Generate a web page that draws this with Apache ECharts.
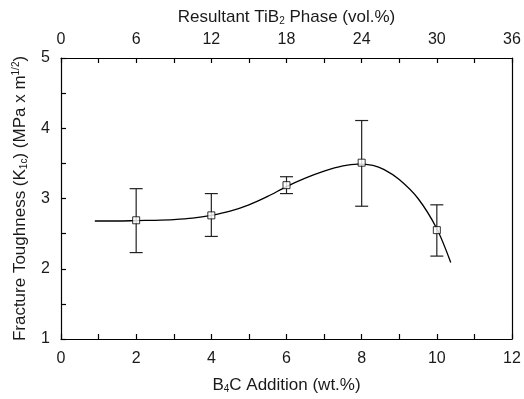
<!DOCTYPE html>
<html>
<head>
<meta charset="utf-8">
<script src="https://cdn.jsdelivr.net/npm/echarts@6/dist/echarts.min.js"></script>
<style>html,body{margin:0;padding:0;background:#fff}#c{width:524px;height:399px}</style>
</head>
<body>
<div id="c"></div>
<script>
// Measured points (B4C wt.%)
const b4c = [2, 4, 6, 8, 10];
const toughness = [2.69, 2.76, 3.19, 3.51, 2.55];
const errLow = [2.23, 2.46, 3.07, 2.89, 2.18];
const errHigh = [3.14, 3.07, 3.31, 4.11, 2.91];
// Fitted curve
const curveX = [0.9, 1.5, 2, 2.5, 3, 3.5, 4, 4.5, 5, 5.5, 6, 6.5, 7, 7.5, 7.9, 8.3, 8.6, 9, 9.5, 10, 10.37];
const curveY = [2.68, 2.68, 2.685, 2.69, 2.70, 2.72, 2.76, 2.82, 2.91, 3.03, 3.17, 3.29, 3.39, 3.465, 3.49, 3.47, 3.41, 3.27, 3.00, 2.57, 2.09];
// Axis settings
const bottomTicks = {min: 0, max: 12, interval: 2};
const topTicks = {min: 0, max: 36, interval: 6};
const leftTicks = {min: 1, max: 5, interval: 1};

const font = 'Liberation Sans, Arial, Helvetica, sans-serif';
const txt = '#1a1a1a';
const lineStyle = {color: '#000', width: 1.2};

const chart = echarts.init(document.getElementById('c'), null, {renderer: 'canvas'});
const subStyle = {fontSize: 10, verticalAlign: 'bottom', color: txt, fontFamily: font, padding: [7, 0, 0, 0]};
const normStyle = {fontSize: 17, color: txt, fontFamily: font};

chart.setOption({
  animation: false,
  backgroundColor: '#fff',
  grid: {left: 61, right: 12, top: 58, bottom: 56, containLabel: false},
  xAxis: [
    {
      type: 'value', position: 'bottom', ...bottomTicks,
      axisLine: {show: true, onZero: false, lineStyle},
      axisTick: {show: true, inside: true, length: 5, lineStyle},
      minorTick: {show: true, splitNumber: 2, length: 5, lineStyle},
      splitLine: {show: false},
      axisLabel: {fontSize: 16, color: txt, fontFamily: font, margin: 12},
      name: '{n|B}{s|4}{n|C Addition (wt.%)}',
      nameLocation: 'middle', nameGap: 38,
      nameTextStyle: {rich: {n: normStyle, s: subStyle}}
    },
    {
      type: 'value', position: 'top', ...topTicks,
      axisLine: {show: true, onZero: false, lineStyle},
      axisTick: {show: true, inside: true, length: 5, lineStyle},
      minorTick: {show: true, splitNumber: 2, length: 5, lineStyle},
      splitLine: {show: false},
      axisLabel: {fontSize: 16, color: txt, fontFamily: font, margin: 10},
      name: '{n|Resultant TiB}{s|2}{n| Phase (vol.%)}',
      nameLocation: 'middle', nameGap: 32,
      nameTextStyle: {rich: {n: normStyle, s: subStyle}}
    }
  ],
  yAxis: [
    {
      type: 'value', position: 'left', ...leftTicks,
      axisLine: {show: true, onZero: false, lineStyle},
      axisTick: {show: true, inside: true, length: 5, lineStyle},
      minorTick: {show: true, splitNumber: 2, length: 5, lineStyle},
      splitLine: {show: false},
      axisLabel: {fontSize: 16, color: txt, fontFamily: font, margin: 11},
      name: '{n|Fracture Toughness (K}{s|1c}{n|) (MPa x m}{p|1/2}{n|)}',
      nameLocation: 'middle', nameGap: 32, nameRotate: 90,
      nameTextStyle: {rich: {n: normStyle, s: subStyle,
        p: {fontSize: 10, verticalAlign: 'top', color: txt, fontFamily: font, padding: [0, 0, 8, 0]}}}
    },
    {
      type: 'value', position: 'right', ...leftTicks,
      axisLine: {show: true, onZero: false, lineStyle},
      axisTick: {show: false}, axisLabel: {show: false}, splitLine: {show: false}
    }
  ],
  series: [
    {
      type: 'line', xAxisIndex: 0, yAxisIndex: 0,
      data: curveX.map((x, i) => [x, curveY[i]]),
      smooth: 0.3, symbol: 'none',
      lineStyle: {color: '#000', width: 1.3}, z: 2
    },
    {
      type: 'custom', xAxisIndex: 0, yAxisIndex: 0,
      data: b4c.map((x, i) => [x, errLow[i], errHigh[i]]),
      renderItem: function (params, api) {
        const lo = api.coord([api.value(0), api.value(1)]);
        const hi = api.coord([api.value(0), api.value(2)]);
        const w = 6.5;
        const st = {stroke: '#222', lineWidth: 1.2};
        return {type: 'group', children: [
          {type: 'line', shape: {x1: hi[0], y1: hi[1], x2: lo[0], y2: lo[1]}, style: st},
          {type: 'line', shape: {x1: hi[0] - w, y1: hi[1], x2: hi[0] + w, y2: hi[1]}, style: st},
          {type: 'line', shape: {x1: lo[0] - w, y1: lo[1], x2: lo[0] + w, y2: lo[1]}, style: st}
        ]};
      }, z: 1
    },
    {
      type: 'scatter', xAxisIndex: 0, yAxisIndex: 0,
      data: b4c.map((x, i) => [x, toughness[i]]),
      symbol: 'rect', symbolSize: 7,
      itemStyle: {color: '#fff', borderColor: '#000', borderWidth: 1}, z: 3
    }
  ]
});
</script>
</body>
</html>
